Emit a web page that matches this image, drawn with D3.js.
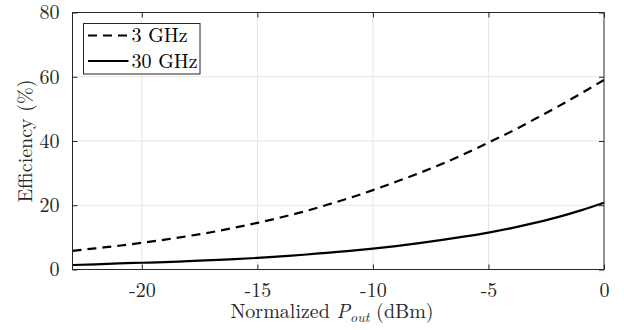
<!DOCTYPE html>
<html><head><meta charset="utf-8">
<script src="https://cdn.jsdelivr.net/npm/d3@7/dist/d3.min.js"></script>
<style>html,body{margin:0;padding:0;background:#fff;}</style>
</head>
<body><svg id="c" width="624" height="330"></svg>
<script>
const pout = [-23,-22,-21,-20,-19,-18,-17,-16,-15,-14,-13,-12,-11,-10,-9,-8,-7,-6,-5,-4,-3,-2,-1,0];
const eff3GHz = [5.8,6.6,7.4,8.3,9.3,10.4,11.6,13.0,14.5,16.2,18.0,20.1,22.3,24.7,27.3,30.0,32.9,36.1,39.5,43.0,46.8,50.7,54.8,59.0];
const eff30GHz = [1.4,1.6,1.9,2.1,2.3,2.6,2.9,3.2,3.6,4.1,4.6,5.2,5.8,6.5,7.3,8.2,9.2,10.3,11.5,12.9,14.5,16.3,18.4,20.8];
const xTicks = [-20,-15,-10,-5,0];
const yTicks = [0,20,40,60,80];
const seriesNames = ["3 GHz","30 GHz"];

const FONT = '"Latin Modern Roman","Liberation Serif",serif';
const svg = d3.select("#c");
const L=72.5, R=604, T=12.5, B=269.5;
const x = d3.scaleLinear().domain([-23,0]).range([L,R]);
const y = d3.scaleLinear().domain([0,80]).range([B,T]);

// grid
const g = svg.append("g");
g.selectAll(".gx").data(xTicks.filter(d=>d>-23&&d<0)).enter().append("line")
 .attr("x1",d=>x(d)).attr("x2",d=>x(d)).attr("y1",T).attr("y2",B)
 .attr("stroke","#e6e6e6").attr("stroke-width",1);
g.selectAll(".gy").data(yTicks.filter(d=>d>0&&d<80)).enter().append("line")
 .attr("y1",d=>y(d)).attr("y2",d=>y(d)).attr("x1",L).attr("x2",R)
 .attr("stroke","#e6e6e6").attr("stroke-width",1);

// lines
const line = d3.line().curve(d3.curveMonotoneX);
svg.append("path").attr("d",line(pout.map((p,i)=>[x(p),y(eff3GHz[i])])))
 .attr("fill","none").attr("stroke","#000").attr("stroke-width",2.2).attr("stroke-dasharray","9,6");
svg.append("path").attr("d",line(pout.map((p,i)=>[x(p),y(eff30GHz[i])])))
 .attr("fill","none").attr("stroke","#000").attr("stroke-width",2.2);

// axes with inward ticks
const ax = d3.axisBottom(x).tickValues(xTicks).tickSizeInner(-5).tickSizeOuter(0).tickPadding(13);
const ay = d3.axisLeft(y).tickValues(yTicks).tickSizeInner(-5).tickSizeOuter(0).tickPadding(13);
const gx = svg.append("g").attr("transform",`translate(0,${B})`).call(ax);
const gy = svg.append("g").attr("transform",`translate(${L},0)`).call(ay);
const gxt = svg.append("g").attr("transform",`translate(0,${T})`).call(d3.axisTop(x).tickValues(xTicks).tickSizeInner(-5).tickSizeOuter(0).tickFormat(""));
const gyr = svg.append("g").attr("transform",`translate(${R},0)`).call(d3.axisRight(y).tickValues(yTicks).tickSizeInner(-5).tickSizeOuter(0).tickFormat(""));
[gx,gy,gxt,gyr].forEach(a=>{
  a.select(".domain").remove();
  a.selectAll(".tick line").attr("stroke","#262626").attr("stroke-width",1);
  a.selectAll(".tick text").attr("font-size",20).attr("fill","#262626").style("font-family",FONT);
});
gx.selectAll(".tick text").text(d=>d<0?"-"+Math.abs(d):d);
svg.append("rect").attr("x",L).attr("y",T).attr("width",R-L).attr("height",B-T)
 .attr("fill","none").attr("stroke","#262626").attr("stroke-width",1);

// axis labels
const xl = svg.append("text").attr("x",332).attr("y",318).attr("text-anchor","middle").attr("font-size",20)
 .attr("fill","#262626").style("font-family",FONT);
xl.append("tspan").text("Normalized ");
xl.append("tspan").attr("font-style","italic").text("P");
xl.append("tspan").attr("font-style","italic").attr("font-size",14).attr("dy",4).text("out");
xl.append("tspan").attr("dy",-4).text(" (dBm)");
svg.append("text").attr("transform",`translate(32,${(T+B)/2}) rotate(-90)`).attr("text-anchor","middle")
 .attr("font-size",20).attr("fill","#262626").style("font-family",FONT).text("Efficiency (%)");

// legend
const lg = svg.append("g");
lg.append("rect").attr("x",83.5).attr("y",23.5).attr("width",116.5).attr("height",50.5)
 .attr("fill","#fff").attr("stroke","#262626").attr("stroke-width",1);
const rows=[35.5,61];
seriesNames.forEach((n,i)=>{
  lg.append("line").attr("x1",88).attr("x2",128.5).attr("y1",rows[i]).attr("y2",rows[i])
   .attr("stroke","#000").attr("stroke-width",2.2).attr("stroke-dasharray",i===0?"9,6":null);
  lg.append("text").attr("x",131.5).attr("y",rows[i]).attr("dy","0.33em").attr("font-size",20)
   .attr("fill","#000").style("font-family",FONT).text(n);
});
</script></body></html>
